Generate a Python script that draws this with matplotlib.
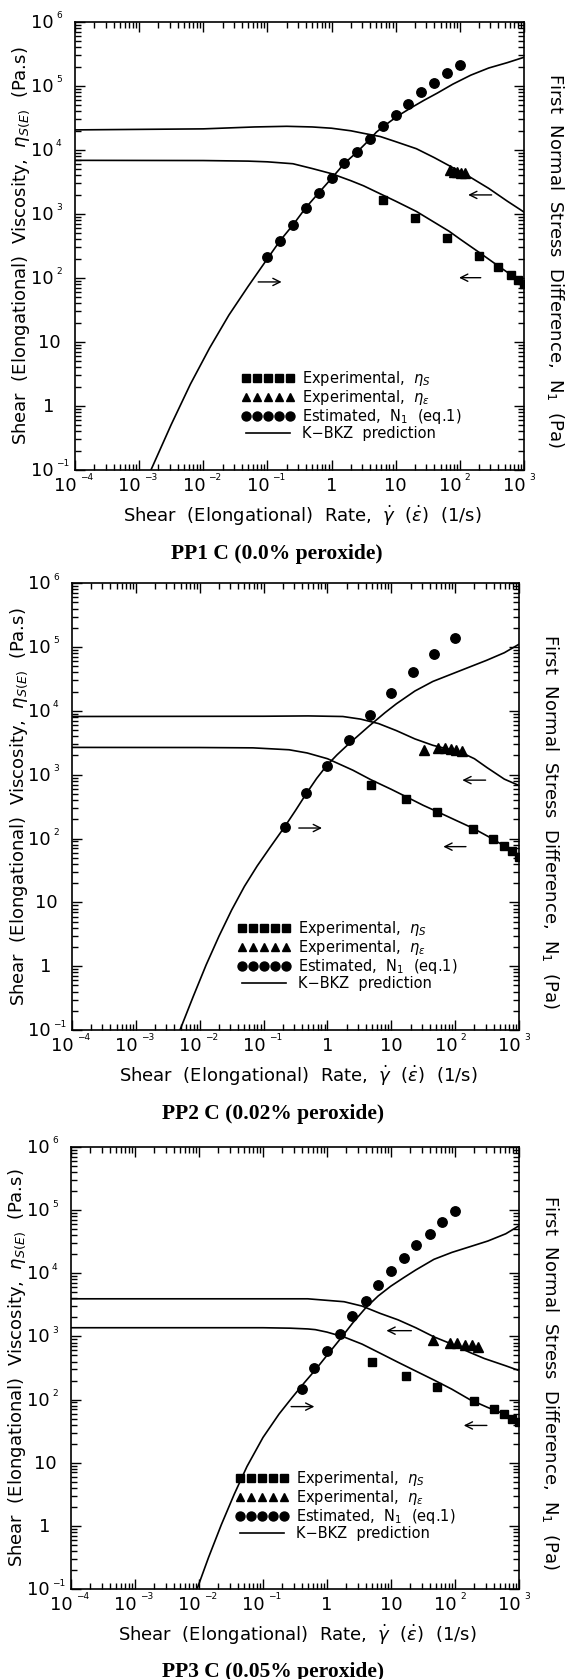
import matplotlib
matplotlib.use("Agg")
import matplotlib.pyplot as plt
from matplotlib.ticker import LogLocator, NullFormatter

# ---- data ----
# PP1 C (0.0% peroxide)
pp1_n1_rate = [0.1, 0.158, 0.251, 0.398, 0.631, 1.0, 1.585, 2.51, 3.98, 6.31, 10, 15.8, 25.1, 39.8, 63.1, 100]
pp1_n1 = [215, 384, 670, 1262, 2145, 3600, 6200, 9380, 14750, 24100, 35500, 52400, 80200, 111000, 157000, 212000]
pp1_s_rate = [6.3, 20, 63, 200, 400, 630, 800, 1000]
pp1_s = [1635, 867, 420, 220, 149, 112, 92, 81]
pp1_e_rate = [70, 80, 90, 105, 120]
pp1_e = [4900, 4600, 4500, 4400, 4300]
pp1_fit_s_rate = [1e-4, 0.01, 0.05, 0.1, 0.25, 0.5, 1, 2, 3.16, 5.75, 10, 21, 40, 68, 100, 200, 420, 1000]
pp1_fit_s = [6887, 6839, 6699, 6531, 6095, 5129, 4266, 3311, 2754, 2065, 1585, 1096, 741, 537, 407, 251, 148, 81]
pp1_fit_e_rate = [1e-4, 0.01, 0.063, 0.2, 0.5, 1, 2, 3.16, 5.75, 10, 21, 40, 79, 148, 282, 550, 1000]
pp1_fit_e = [20600, 21380, 22900, 23440, 22900, 21880, 19950, 18200, 16220, 13490, 10470, 7590, 5250, 3715, 2512, 1585, 1072]
pp1_fit_n1_rate = [0.00153, 0.00316, 0.0063, 0.0126, 0.0251, 0.0501, 0.1, 0.158, 0.251, 0.398, 0.631, 1, 1.585,
                   2.51, 3.98, 5.01, 6.31, 7.94, 10.7, 17.4, 27.5, 44.7, 77.6, 148, 282, 550, 1000]
pp1_fit_n1 = [0.1, 0.51, 2.19, 8.1, 26.3, 74, 200, 384, 676, 1259, 2138, 3600, 6166,
              9333, 14800, 19050, 22900, 27230, 33900, 45700, 59600, 77600, 106700, 147600, 191000, 231700, 281000]
pp1_arrows = [(0.065, 0.184, 86.7), (234, 88, 101), (346, 122, 1985)]

# PP2 C (0.02% peroxide)
pp2_n1_rate = [0.215, 0.464, 1.0, 2.15, 4.64, 10, 21.5, 46.4, 100]
pp2_n1 = [152, 508, 1380, 3510, 8690, 19200, 40100, 76800, 137600]
pp2_s_rate = [4.8, 16.8, 52.6, 192, 387, 578, 769, 1000]
pp2_s = [693, 413, 256, 139, 97, 75, 63, 52]
pp2_e_rate = [32, 54, 70, 85, 103, 130]
pp2_e = [2470, 2640, 2570, 2540, 2470, 2320]
pp2_fit_s_rate = [1e-4, 0.01, 0.068, 0.25, 0.48, 1, 2.5, 4.8, 10, 17, 31.6, 52.5, 100, 190, 390, 600, 1000]
pp2_fit_s = [2673, 2661, 2630, 2455, 2188, 1778, 1175, 832, 589, 452, 331, 263, 195, 145, 98, 75, 55]
pp2_fit_e_rate = [1e-4, 0.1, 0.5, 1.74, 3.31, 6.31, 12, 23.4, 44.7, 85, 129, 200, 316, 589, 1000]
pp2_fit_e = [8147, 8222, 8318, 8147, 7413, 6310, 4898, 3631, 2884, 2455, 2188, 1778, 1288, 851, 676]
pp2_fit_n1_rate = [0.0049, 0.00794, 0.0126, 0.02, 0.0316, 0.0501, 0.0794, 0.126, 0.213, 0.316, 0.464, 0.676,
                   0.968, 1.41, 2.09, 4.47, 7.94, 12, 23.4, 44.7, 85.1, 162, 309, 589, 1000]
pp2_fit_n1 = [0.1, 0.339, 1.05, 2.95, 7.59, 17.8, 37.2, 72.4, 152, 275, 501, 871,
              1380, 2042, 2951, 5754, 9333, 12880, 20420, 28840, 37150, 47860, 61660, 81280, 110400]
pp2_arrows = [(0.322, 0.908, 146), (163, 59, 74.6), (331, 117, 821)]

# PP3 C (0.05% peroxide)
pp3_n1_rate = [0.4, 0.63, 1.0, 1.6, 2.5, 4.0, 6.3, 10, 16, 25, 40, 63, 100]
pp3_n1 = [149, 321, 581, 1094, 2090, 3680, 6400, 10900, 17400, 28400, 42200, 65200, 96900]
pp3_s_rate = [5.07, 17.1, 52, 200, 406, 584, 786, 1000]
pp3_s = [391, 237, 160, 94, 72, 59, 49, 44]
pp3_e_rate = [45.7, 84, 109, 141, 182, 227]
pp3_e = [863, 780, 790, 740, 720, 690]
pp3_fit_s_rate = [1e-4, 0.1, 0.266, 0.5, 0.657, 1, 1.85, 3.53, 6.74, 12.9, 24.5, 46.8, 89.1, 170, 324, 617, 1000]
pp3_fit_s = [1371, 1371, 1349, 1312, 1279, 1169, 977, 755, 543, 389, 282, 204, 146, 100, 75, 58, 47]
pp3_fit_e_rate = [1e-4, 0.5, 1.85, 3.53, 6.74, 12.9, 24.5, 46.8, 89.1, 170, 288, 617, 1000]
pp3_fit_e = [3936, 3936, 3540, 3020, 2317, 1828, 1368, 984, 755, 558, 446, 343, 288]
pp3_fit_n1_rate = [0.00933, 0.0141, 0.0224, 0.0355, 0.0562, 0.1, 0.178, 0.284, 0.437, 0.658, 1, 1.63, 2.51,
                   4.02, 6.31, 9.93, 15.8, 24.5, 46.9, 89.5, 171, 326, 622, 1000]
pp3_fit_n1 = [0.1, 0.316, 1.05, 3.16, 8.71, 25.1, 58.9, 107, 182, 295, 501, 923, 1622,
              2825, 4365, 6237, 8511, 11300, 16600, 21380, 26300, 32360, 42170, 56360]
pp3_arrows = [(0.249, 0.702, 77.3), (23, 7.67, 1232), (348, 124, 38.9)]

titles = ["PP1 C (0.0% peroxide)", "PP2 C (0.02% peroxide)", "PP3 C (0.05% peroxide)"]

x_ticks = [1e-4, 1e-3, 1e-2, 1e-1, 1, 10, 1e2, 1e3]
x_base = ["10", "10", "10", "10", "1", "10", "10", "10"]
x_exp = ["\u22124", "\u22123", "\u22122", "\u22121", "", "", "2", "3"]
y_ticks = [1e-1, 1, 10, 1e2, 1e3, 1e4, 1e5, 1e6]
y_base = ["10", "1", "10", "10", "10", "10", "10", "10"]
y_exp = ["\u22121", "", "", "2", "3", "4", "5", "6"]

legend_labels = ["Experimental,  $\\eta_S$", "Experimental,  $\\eta_\\varepsilon$",
                 "Estimated,  N$_1$  (eq.1)", "K\u2212BKZ  prediction"]

panels = [
    (pp1_n1_rate, pp1_n1, pp1_s_rate, pp1_s, pp1_e_rate, pp1_e,
     pp1_fit_s_rate, pp1_fit_s, pp1_fit_e_rate, pp1_fit_e, pp1_fit_n1_rate, pp1_fit_n1, pp1_arrows),
    (pp2_n1_rate, pp2_n1, pp2_s_rate, pp2_s, pp2_e_rate, pp2_e,
     pp2_fit_s_rate, pp2_fit_s, pp2_fit_e_rate, pp2_fit_e, pp2_fit_n1_rate, pp2_fit_n1, pp2_arrows),
    (pp3_n1_rate, pp3_n1, pp3_s_rate, pp3_s, pp3_e_rate, pp3_e,
     pp3_fit_s_rate, pp3_fit_s, pp3_fit_e_rate, pp3_fit_e, pp3_fit_n1_rate, pp3_fit_n1, pp3_arrows),
]

# axes boxes (figure fractions) and legend anchors
boxes = [[0.132, 0.7201, 0.7905, 0.2668],
         [0.1268, 0.3865, 0.787, 0.2662],
         [0.125, 0.0536, 0.7887, 0.2633]]
leg_anchor = [(0.372, 0.064), (0.371, 0.087), (0.368, 0.108)]

fig = plt.figure(figsize=(5.68, 16.79), dpi=100)

for i, p in enumerate(panels):
    (n1r, n1, sr, s, er, e, fsr, fs, fer, fe, fnr, fn, arrows) = p
    ax = fig.add_axes(boxes[i])
    ax.set_xscale("log")
    ax.set_yscale("log")
    ax.set_xlim(1e-4, 1e3)
    ax.set_ylim(1e-1, 1e6)

    line, = ax.plot(fsr, fs, color="black", lw=1.2)
    ax.plot(fer, fe, color="black", lw=1.2)
    ax.plot(fnr, fn, color="black", lw=1.2)
    sq, = ax.plot(sr, s, ls="none", marker="s", ms=6, color="black")
    tri, = ax.plot(er, e, ls="none", marker="^", ms=6.5, color="black")
    circ, = ax.plot(n1r, n1, ls="none", marker="o", ms=6.8, color="black")

    for x0, x1, yv in arrows:
        ax.annotate("", xy=(x1, yv), xytext=(x0, yv),
                    arrowprops=dict(arrowstyle="->", lw=1.0, color="black", mutation_scale=13))

    ax.legend([sq, tri, circ, line], legend_labels, loc="lower left",
              bbox_to_anchor=leg_anchor[i], frameon=False, numpoints=5,
              handlelength=3.6, handletextpad=0.5, labelspacing=0.0,
              borderpad=0, borderaxespad=0, fontsize=10.5, markerscale=0.95)

    ax.xaxis.set_major_locator(LogLocator(base=10, numticks=20))
    ax.xaxis.set_minor_locator(LogLocator(base=10, subs=range(2, 10), numticks=20))
    ax.yaxis.set_major_locator(LogLocator(base=10, numticks=20))
    ax.yaxis.set_minor_locator(LogLocator(base=10, subs=range(2, 10), numticks=20))
    for a in (ax.xaxis, ax.yaxis):
        a.set_major_formatter(NullFormatter())
        a.set_minor_formatter(NullFormatter())
    ax.tick_params(which="both", direction="in", top=True, right=True, width=1.0)
    ax.tick_params(which="major", length=7)
    ax.tick_params(which="minor", length=4)
    for sp in ax.spines.values():
        sp.set_linewidth(1.2)

    # tick labels: "10" plus small exponent
    for v, b, ex in zip(x_ticks, x_base, x_exp):
        if ex:
            ax.annotate(b, xy=(v, 0), xycoords=("data", "axes fraction"), xytext=(2, -7),
                        textcoords="offset pixels", ha="right", va="top", fontsize=13)
            ax.annotate(ex, xy=(v, 0), xycoords=("data", "axes fraction"), xytext=(5, -3),
                        textcoords="offset pixels", ha="left", va="top", fontsize=6.5)
        else:
            ax.annotate(b, xy=(v, 0), xycoords=("data", "axes fraction"), xytext=(0, -7),
                        textcoords="offset pixels", ha="center", va="top", fontsize=13)
    for v, b, ex in zip(y_ticks, y_base, y_exp):
        if ex:
            ax.annotate(b, xy=(0, v), xycoords=("axes fraction", "data"), xytext=(-21, -1),
                        textcoords="offset pixels", ha="right", va="center", fontsize=13)
            ax.annotate(ex, xy=(0, v), xycoords=("axes fraction", "data"), xytext=(-19, 6),
                        textcoords="offset pixels", ha="left", va="center", fontsize=6.5)
        elif b == "10":
            ax.annotate(b, xy=(0, v), xycoords=("axes fraction", "data"), xytext=(-14, -1),
                        textcoords="offset pixels", ha="right", va="center", fontsize=13)
        else:
            ax.annotate(b, xy=(0, v), xycoords=("axes fraction", "data"), xytext=(-21, -1),
                        textcoords="offset pixels", ha="right", va="center", fontsize=13)

    ax.text(0.506, -0.103, "Shear  (Elongational)  Rate,  $\\dot{\\gamma}$  ($\\dot{\\varepsilon}$)  (1/s)",
            transform=ax.transAxes, ha="center", va="center", fontsize=13)
    ax.text(-0.119, 0.5, "Shear  (Elongational)  Viscosity,  $\\eta_{S(E)}$  (Pa.s)",
            transform=ax.transAxes, ha="center", va="center", rotation=90, fontsize=13)
    ax.text(1.07, 0.467, "First  Normal  Stress  Difference,  N$_1$  (Pa)",
            transform=ax.transAxes, ha="center", va="center", rotation=270, fontsize=13)
    ax.text(0.45, -0.1875, titles[i], transform=ax.transAxes, ha="center", va="center",
            fontsize=15.5, fontweight="bold", family="Liberation Serif")

fig.savefig("out.png", dpi=100)
